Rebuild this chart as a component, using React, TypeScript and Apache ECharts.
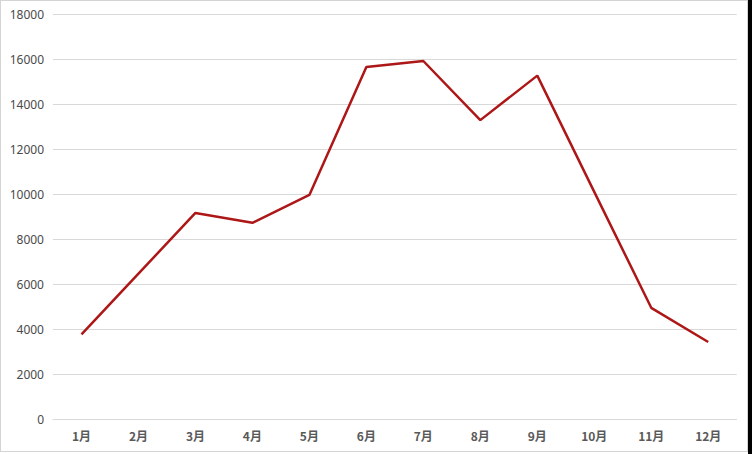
import React, { useEffect, useRef } from "react";
import * as echarts from "echarts";

const categories = ["1月", "2月", "3月", "4月", "5月", "6月", "7月", "8月", "9月", "10月", "11月", "12月"];
const values = [3780, 6480, 9180, 8740, 9980, 15670, 15940, 13310, 15290, 10120, 4960, 3440];
const yMin = 0;
const yMax = 18000;
const yInterval = 2000;

export default function App() {
  const ref = useRef<HTMLDivElement>(null);
  useEffect(() => {
    if (!ref.current) return;
    const chart = echarts.init(ref.current, null, { renderer: "svg" });
    chart.setOption({
      animation: false,
      backgroundColor: "transparent",
      grid: { left: 53, right: 15.3, top: 14.7, bottom: 34.7, containLabel: false },
      xAxis: {
        type: "category",
        data: categories,
        boundaryGap: true,
        axisLine: { show: true, lineStyle: { color: "#d9d9d9", width: 1 } },
        axisTick: { show: false },
        axisLabel: {
          color: "#595959",
          fontSize: 12,
          fontWeight: "bold",
          fontFamily: "'Noto Sans CJK SC', 'Noto Sans', sans-serif",
          margin: 10,
        },
      },
      yAxis: {
        type: "value",
        min: yMin,
        max: yMax,
        interval: yInterval,
        axisLine: { show: false },
        axisTick: { show: false },
        splitLine: { show: true, lineStyle: { color: "#d9d9d9", width: 1 } },
        axisLabel: {
          color: "#4a4a4a",
          fontSize: 12,
          fontFamily: "'Noto Sans', sans-serif",
          margin: 9,
          formatter: (v: number) => String(v),
        },
      },
      series: [
        {
          type: "line",
          data: values,
          symbol: "none",
          lineStyle: { color: "#AD1717", width: 2.5 },
          itemStyle: { color: "#AD1717" },
        },
      ],
    });
    return () => chart.dispose();
  }, []);
  return (
    <div style={{ position: "absolute", left: 0, top: 0, width: 752, height: 454, background: "#000" }}>
      <div
        style={{
          position: "absolute",
          left: 0,
          top: 0,
          width: 748,
          height: 452,
          boxSizing: "border-box",
          border: "1px solid #d4d4d4",
          background: "#fff",
        }}
      />
      <div
        style={{ position: "absolute", left: 0, top: 452, width: 748, height: 2, background: "#fff" }}
      />
      <div ref={ref} style={{ position: "absolute", left: 0, top: 0, width: 752, height: 454 }} />
    </div>
  );
}
